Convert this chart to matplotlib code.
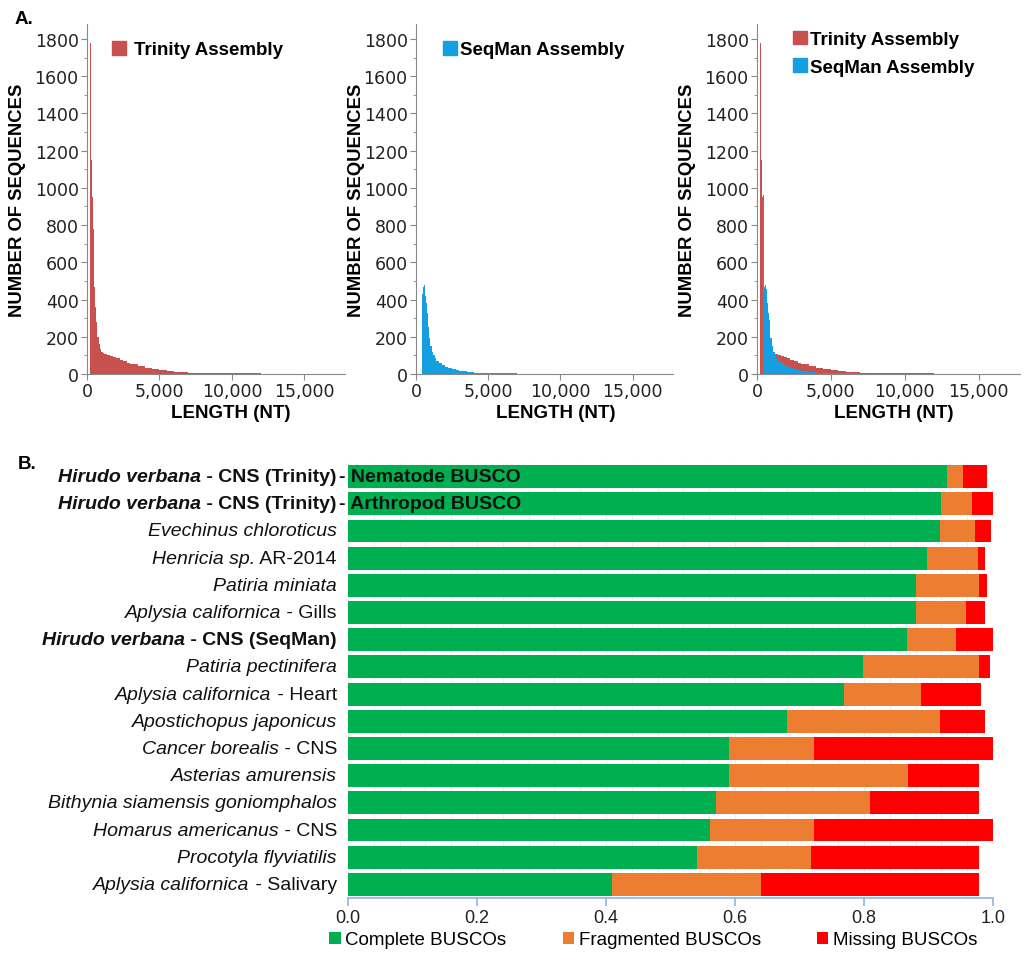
import numpy as np
import matplotlib.pyplot as plt
from matplotlib.patches import Patch
from matplotlib.ticker import FuncFormatter, MultipleLocator

# ---- A. length distributions (bin edges in nt, counts per bin) ----
trinity_edges = [200, 250, 300, 350, 400, 450, 500, 550, 600, 700, 800, 900,
                 1000, 1100, 1200, 1400, 1600, 1800, 2000, 2250, 2500, 2750,
                 3000, 3500, 4000, 4500, 5000, 5500, 6000, 7000, 8000, 9000,
                 10000, 12000, 14000, 16000, 17800]
trinity_counts = [1780, 1450, 1150, 950, 780, 620, 470, 360, 280, 200, 160,
                  135, 120, 112, 108, 102, 97, 92, 84, 76, 68, 61, 52, 42,
                  34, 26, 20, 15, 10, 7, 5, 4, 3, 2, 1.5, 1]

seqman_edges = [400, 450, 500, 550, 600, 650, 700, 750, 800, 850, 900, 1000,
                1100, 1200, 1300, 1400, 1600, 1800, 2000, 2250, 2500, 2750,
                3000, 3500, 4000, 4500, 5000, 6000, 7000, 8000, 9800]
seqman_counts = [960, 430, 470, 480, 455, 420, 380, 330, 290, 250, 195, 150,
                 120, 100, 86, 72, 58, 48, 40, 33, 27, 22, 16, 11, 8, 6, 4,
                 3, 2, 1]

# ---- B. BUSCO completeness ----
species = [
    [("Hirudo verbana", "bi"), (" - CNS (Trinity)", "b")],
    [("Hirudo verbana", "bi"), (" - CNS (Trinity)", "b")],
    [("Evechinus chloroticus", "i")],
    [("Henricia sp.", "i"), (" AR-2014", "n")],
    [("Patiria miniata", "i")],
    [("Aplysia californica", "i"), (" - Gills", "n")],
    [("Hirudo verbana", "bi"), (" - CNS (SeqMan)", "b")],
    [("Patiria pectinifera", "i")],
    [("Aplysia californica", "i"), (" - Heart", "n")],
    [("Apostichopus japonicus", "i")],
    [("Cancer borealis", "i"), (" - CNS", "n")],
    [("Asterias amurensis", "i")],
    [("Bithynia siamensis goniomphalos", "i")],
    [("Homarus americanus", "i"), (" - CNS", "n")],
    [("Procotyla flyviatilis", "i")],
    [("Aplysia californica", "i"), (" - Salivary", "n")],
]
busco_sets = {0: "Nematode BUSCO", 1: "Arthropod BUSCO"}
complete = [0.928, 0.920, 0.918, 0.897, 0.880, 0.880, 0.866, 0.798, 0.769,
            0.680, 0.590, 0.590, 0.570, 0.561, 0.541, 0.409]
fragmented = [0.025, 0.048, 0.054, 0.079, 0.099, 0.078, 0.077, 0.180, 0.119,
              0.238, 0.133, 0.278, 0.239, 0.162, 0.177, 0.231]
missing = [0.038, 0.032, 0.025, 0.012, 0.011, 0.030, 0.057, 0.017, 0.093,
           0.070, 0.277, 0.111, 0.170, 0.277, 0.261, 0.339]

RED = '#C8504E'
BLUE = '#14A0E0'
ARIAL = 'Liberation Sans'

fig = plt.figure(figsize=(10.24, 9.62), dpi=100)
W, H = 1024, 962


def px_axes(left, top, right, bottom):
    return fig.add_axes([left / W, 1 - bottom / H, (right - left) / W, (bottom - top) / H])


def hist_panel(ax, series, ylab_x, xlab_x):
    for edges, counts, color in series:
        ax.fill_between(edges, list(counts) + [counts[-1]], step='post',
                        color=color, lw=0)
    ax.set_xlim(0, 17800)
    ax.set_ylim(0, 1880)
    ax.yaxis.set_major_locator(MultipleLocator(200))
    ax.yaxis.set_minor_locator(MultipleLocator(100))
    ax.set_xticks([0, 5000, 10000, 15000])
    ax.xaxis.set_major_formatter(FuncFormatter(lambda v, p: f'{int(v):,}'))
    for s in ['top', 'right']:
        ax.spines[s].set_visible(False)
    for s in ['left', 'bottom']:
        ax.spines[s].set_color('#888888')
    ax.tick_params(labelsize=12.5, colors='#888888', labelcolor='#222222',
                   length=4, width=0.8, pad=2)
    ax.tick_params(which='minor', length=2, colors='#888888')
    ax.set_ylabel('NUMBER OF SEQUENCES', family=ARIAL, fontweight='bold', fontsize=13.3)
    ax.set_xlabel('LENGTH (NT)', family=ARIAL, fontweight='bold', fontsize=13.5)
    ax.yaxis.set_label_coords(ylab_x, 0.5)
    ax.xaxis.set_label_coords(xlab_x, -0.085)


ax1 = px_axes(87, 25, 345, 375)
hist_panel(ax1, [(trinity_edges, trinity_counts, RED)], -0.235, 0.557)
ax1.legend(handles=[Patch(color=RED, label='Trinity Assembly')], loc='upper left',
           bbox_to_anchor=(0.03, 1.0), frameon=False, handlelength=0.75,
           handleheight=0.75, handletextpad=0.45, prop=dict(family=ARIAL, weight='bold', size=13.5))

ax2 = px_axes(416, 25, 673, 375)
hist_panel(ax2, [(seqman_edges, seqman_counts, BLUE)], -0.200, 0.544)
ax2.legend(handles=[Patch(color=BLUE, label='SeqMan Assembly')], loc='upper left',
           bbox_to_anchor=(0.04, 1.0), frameon=False, handlelength=0.75,
           handleheight=0.75, handletextpad=0.15, prop=dict(family=ARIAL, weight='bold', size=13.5))

ax3 = px_axes(757, 25, 1020, 375)
hist_panel(ax3, [(trinity_edges, trinity_counts, RED), (seqman_edges, seqman_counts, BLUE)],
           -0.232, 0.521)
ax3.legend(handles=[Patch(color=RED, label='Trinity Assembly'),
                    Patch(color=BLUE, label='SeqMan Assembly')], loc='upper left',
           bbox_to_anchor=(0.072, 1.029), frameon=False, handlelength=0.75,
           handleheight=0.75, handletextpad=0.15, labelspacing=0.55,
           prop=dict(family=ARIAL, weight='bold', size=13.5))

fig.text(15 / W, 1 - 19 / H, 'A.', family=ARIAL, fontweight='bold', fontsize=13.5, va='center')
fig.text(18 / W, 1 - 465 / H, 'B.', family=ARIAL, fontweight='bold', fontsize=13.5, va='center')

# ---- stacked bars ----
axb = px_axes(348, 464, 993, 899)
y = np.arange(len(complete))
c = np.array(complete)
f = np.array(fragmented)
m = np.array(missing)
h = 0.84
axb.barh(y, c, height=h, color='#00B050', label='Complete BUSCOs', zorder=2)
axb.barh(y, f, left=c, height=h, color='#ED7D31', label='Fragmented BUSCOs', zorder=2)
axb.barh(y, m, left=c + f, height=h, color='#FF0000', label='Missing BUSCOs', zorder=2)
axb.set_xlim(0, 1)
axb.set_ylim(len(complete) - 0.5, -0.5)
axb.set_xticks(np.arange(0, 1.01, 0.2))
axb.xaxis.set_major_formatter(FuncFormatter(lambda v, p: f'{v:.1f}'))
axb.set_xticks(np.arange(0, 1.001, 0.04), minor=True)
axb.grid(axis='x', which='both', color='#EEEEEE', lw=0.8, zorder=0)
axb.set_yticks([])
for s in ['top', 'right', 'left']:
    axb.spines[s].set_visible(False)
axb.spines['bottom'].set_color('#8EB4E3')
axb.spines['bottom'].set_linewidth(1.2)
axb.tick_params(axis='x', which='major', length=6, width=1.2, color='#8EB4E3',
                labelsize=13, pad=2, labelcolor='#222222')
axb.tick_params(axis='x', which='minor', length=0)
for lab in axb.get_xticklabels():
    lab.set_family(ARIAL)

styles = {'n': ('normal', 'normal'), 'i': ('italic', 'normal'),
          'b': ('normal', 'bold'), 'bi': ('italic', 'bold')}
for i, segs in enumerate(species):
    prev = None
    for text, st in reversed(segs):
        style, weight = styles[st]
        kw = dict(family=ARIAL, style=style, fontweight=weight, fontsize=14,
                  color='#111111', ha='right', annotation_clip=False)
        if prev is None:
            prev = axb.annotate(text, xy=(0, i), xycoords=('axes fraction', 'data'),
                                xytext=(-8, 0), textcoords='offset points',
                                va='center', **kw)
        else:
            prev = axb.annotate(text, xy=(0, 0), xycoords=prev, va='bottom', **kw)
    if i in busco_sets:
        axb.annotate('- ' + busco_sets[i], xy=(0, i), xycoords=('axes fraction', 'data'),
                     xytext=(-6.5, 0), textcoords='offset points', va='center',
                     ha='left', family=ARIAL, fontweight='bold', fontsize=14,
                     color='#111111', annotation_clip=False, zorder=5)

handles, labels = axb.get_legend_handles_labels()
fig.legend(handles, labels, loc='center', bbox_to_anchor=(0.638, 1 - 941 / H), ncol=3,
           frameon=False, handlelength=0.6, handleheight=0.6, handletextpad=0.25,
           columnspacing=3.0, prop=dict(family=ARIAL, size=13.5))

fig.savefig('out.png', dpi=100)
